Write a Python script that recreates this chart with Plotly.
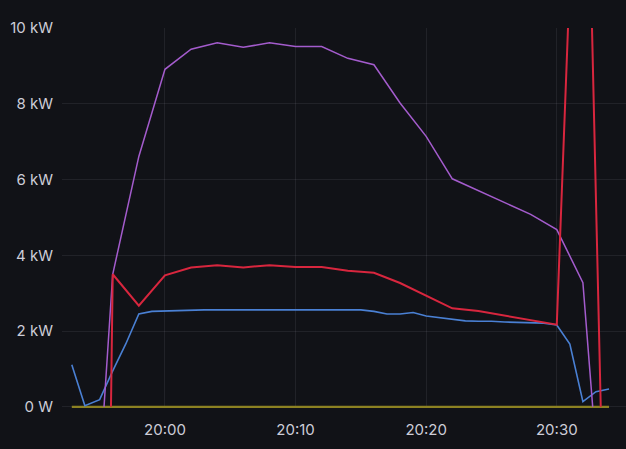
import plotly.graph_objects as go

D = "2024-01-01 "

# Blue series (1-min samples)
blue_times = ["19:52:52", "19:53:52", "19:55:00", "19:56:00", "19:57:00", "19:58:00", "19:59:00",
              "20:00:00", "20:01:00", "20:02:00", "20:03:00", "20:04:00", "20:05:00", "20:06:00",
              "20:07:00", "20:08:00", "20:09:00", "20:10:00", "20:11:00", "20:12:00", "20:13:00",
              "20:14:00", "20:15:00", "20:16:00", "20:17:00", "20:18:00", "20:19:00", "20:20:00",
              "20:21:00", "20:22:00", "20:23:00", "20:24:00", "20:25:00", "20:26:00", "20:27:00",
              "20:28:00", "20:29:00", "20:30:00", "20:31:00", "20:32:00", "20:33:00", "20:34:00"]
blue_kw = [1.11, 0.03, 0.19, 0.95, 1.66, 2.45, 2.52,
           2.53, 2.55, 2.56, 2.56, 2.56, 2.56, 2.56,
           2.56, 2.56, 2.56, 2.56, 2.56, 2.56, 2.56,
           2.56, 2.56, 2.52, 2.45, 2.45, 2.49, 2.40,
           2.35, 2.31, 2.27, 2.26, 2.26, 2.24, 2.23,
           2.23, 2.21, 2.16, 1.66, 0.14, 0.40, 0.47]

# Yellow series (zero throughout)
yellow_kw = [0.0] * len(blue_times)

# Purple series (2-min samples)
purple_times = ["19:55:20", "19:56:00", "19:58:00", "20:00:00", "20:02:00", "20:04:00", "20:06:00",
                "20:08:00", "20:10:00", "20:12:00", "20:14:00", "20:16:00", "20:18:00", "20:20:00",
                "20:22:00", "20:24:00", "20:26:00", "20:28:00", "20:30:00", "20:32:00", "20:32:45"]
purple_kw = [0.0, 3.5, 6.61, 8.91, 9.44, 9.61, 9.49,
             9.61, 9.51, 9.51, 9.2, 9.03, 8.02, 7.14,
             6.02, 5.7, 5.38, 5.08, 4.68, 3.28, 0.0]

# Red series (2-min samples)
red_times = ["19:55:52", "19:56:00", "19:58:00", "20:00:00", "20:02:00", "20:04:00", "20:06:00",
             "20:08:00", "20:10:00", "20:12:00", "20:14:00", "20:16:00", "20:18:00", "20:20:00",
             "20:22:00", "20:24:00", "20:26:00", "20:28:00", "20:30:00", "20:32:00", "20:33:22"]
red_kw = [0.0, 3.5, 2.67, 3.47, 3.68, 3.74, 3.68,
          3.74, 3.69, 3.69, 3.59, 3.54, 3.27, 2.93,
          2.6, 2.53, 2.41, 2.30, 2.17, 20.4, 0.0]

y_tickvals = [0, 2, 4, 6, 8, 10]
y_ticktext = ["0 W", "2 kW", "4 kW", "6 kW", "8 kW", "10 kW"]

x_tickvals = ["20:00:00", "20:10:00", "20:20:00", "20:30:00"]
x_ticktext = ["20:00", "20:10", "20:20", "20:30"]

def ts(lst):
    return [D + t for t in lst]

fig = go.Figure()
fig.add_trace(go.Scatter(x=ts(blue_times), y=yellow_kw, mode="lines",
                         line=dict(color="#8c8122", width=2.2), hoverinfo="skip"))
fig.add_trace(go.Scatter(x=ts(blue_times), y=blue_kw, mode="lines",
                         line=dict(color="#4a80d4", width=1.6)))
fig.add_trace(go.Scatter(x=ts(purple_times), y=purple_kw, mode="lines",
                         line=dict(color="#a45ccd", width=1.5)))
fig.add_trace(go.Scatter(x=ts(red_times), y=red_kw, mode="lines",
                         line=dict(color="#d8263e", width=2)))

grid = "rgba(204,204,220,0.09)"
fig.update_layout(
    width=626, height=449,
    margin=dict(l=62, r=0, t=28, b=41),
    paper_bgcolor="#111217", plot_bgcolor="#111217",
    showlegend=False,
    font=dict(family="Inter", size=15, color="#cdcdd8"),
    xaxis=dict(
        type="date",
        range=[D + "19:52:07", D + "20:35:18"],
        tickvals=ts(x_tickvals), ticktext=x_ticktext,
        showgrid=True, gridcolor=grid, gridwidth=1,
        zeroline=False, showline=False, ticks="",
        ticklabelstandoff=11,
    ),
    yaxis=dict(
        range=[-0.03, 10.0],
        tickvals=y_tickvals, ticktext=y_ticktext,
        showgrid=True, gridcolor=grid, gridwidth=1,
        zeroline=False, showline=False, ticks="",
        ticklabelstandoff=8,
    ),
)

fig.write_html("out.html",
               config={"displayModeBar": False},
               post_script="document.body.style.margin='0';document.body.style.background='#111217';")
